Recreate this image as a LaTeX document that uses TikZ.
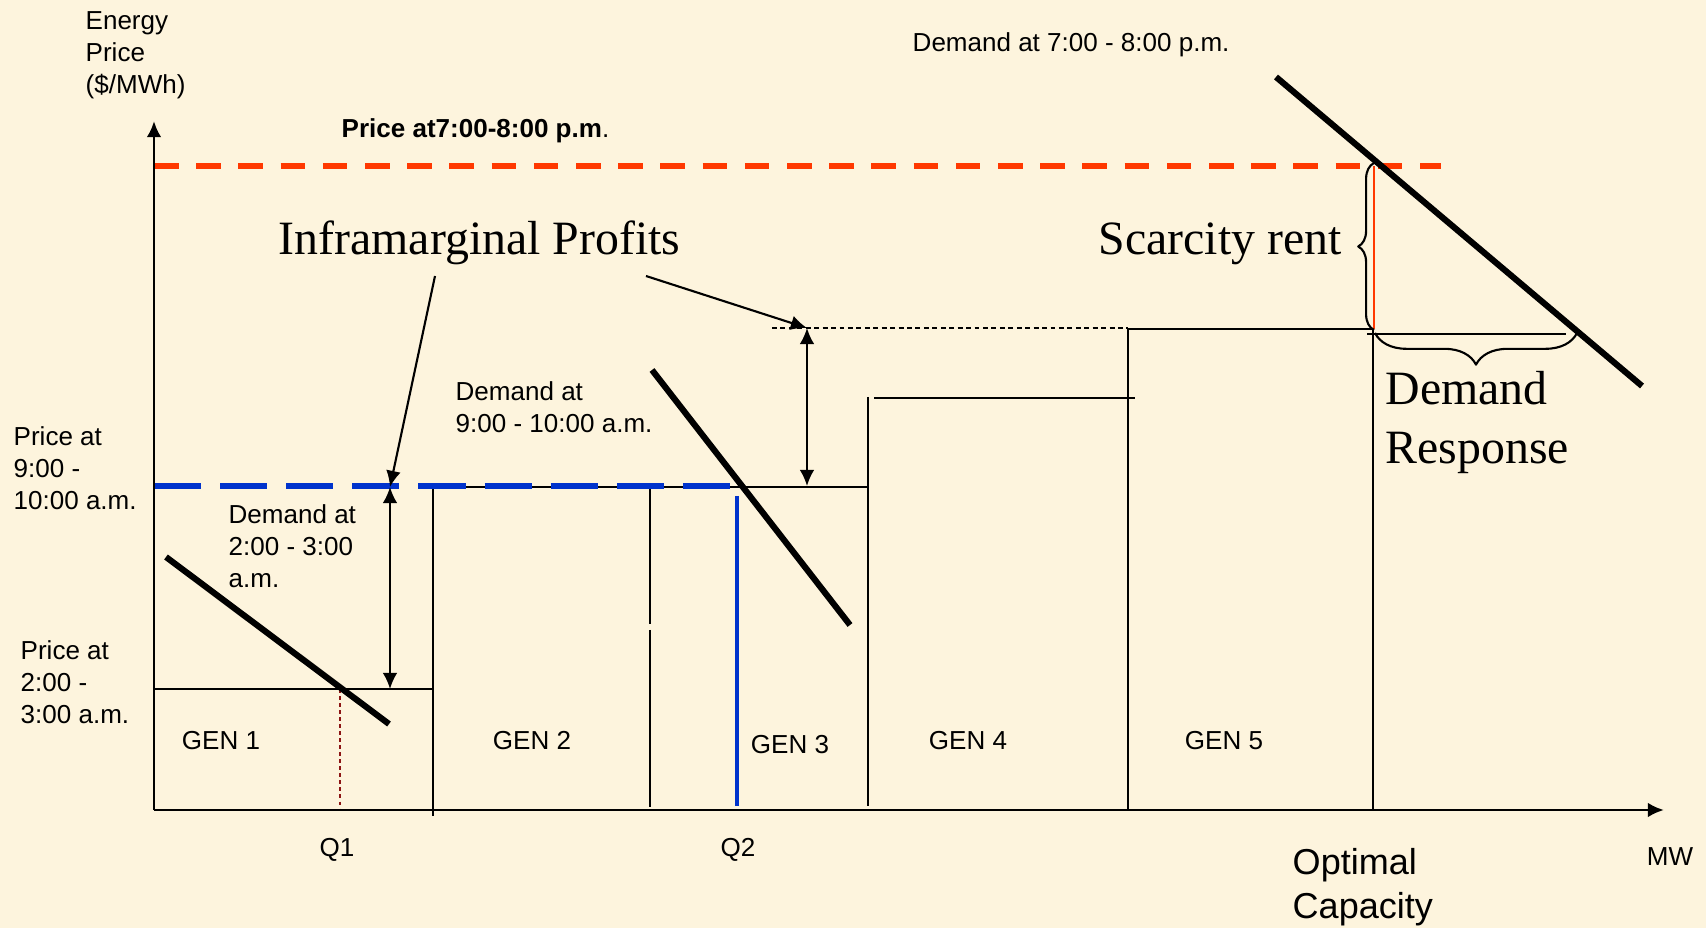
\documentclass[tikz,border=0pt]{standalone}
\usepackage{fontspec}
\setmainfont{Liberation Sans}
\newfontfamily\bigserif{Liberation Serif}
\usepackage{xcolor}
\usetikzlibrary{arrows.meta,decorations.pathreplacing}
\definecolor{paper}{RGB}{253,244,221}
\definecolor{pricered}{RGB}{255,56,0}
\definecolor{priceblue}{RGB}{0,51,204}
\definecolor{dotred}{RGB}{140,20,20}

\begin{document}
\begin{tikzpicture}[x=0.01cm,y=-0.01cm,>={Latex[length=4.6pt,width=4.2pt]},line join=round,
  blk/.style={line width=0.75pt},
  dmd/.style={line width=1.75pt},
  lbl/.style={inner sep=0pt,font=\fontsize{7.4}{9.1}\selectfont,align=left},
  big/.style={inner sep=0pt,font=\bigserif\fontsize{13.6}{16.8}\selectfont,align=left},
  brc/.style={decorate,decoration={brace,amplitude=#1},line width=0.6pt}]
  \useasboundingbox (0,0) rectangle (1706,928);
  \fill[paper] (0,0) rectangle (1706,928);
  \coordinate (O) at (154,810);
  \coordinate (YT) at (154,121);
  \coordinate (XT) at (1664,810);
  \coordinate (R0) at (154,166);
  \coordinate (R1) at (1441,166);
  \coordinate (B0) at (154,486);
  \coordinate (B1) at (740,486);
  \coordinate (A1T) at (390,487);
  \coordinate (A1B) at (390,689);
  \coordinate (A2T) at (807,328);
  \coordinate (A2B) at (807,486);
  \coordinate (IP1) at (435,276);
  \coordinate (IP2) at (646,276);
  \draw[blk] (154,689) -- (433,689);
  \draw[blk] (433,487) -- (433,816);
  \draw[blk] (433,487) -- (868,487);
  \draw[blk] (650,487) -- (650,624) (650,630) -- (650,807);
  \draw[blk] (868,397) -- (868,806);
  \draw[blk] (874,398) -- (1135,398);
  \draw[blk] (1128,329) -- (1128,810);
  \draw[blk] (1128,329) -- (1373,329);
  \draw[blk] (1373,329) -- (1373,810);
  \draw[blk] (1367,334) -- (1566,334);
  \draw[pricered,line width=0.8pt] (1374,166) -- (1374,329);
  \draw[pricered,line width=1.45pt,dash pattern=on 7pt off 5pt] (R0) -- (R1);
  \draw[priceblue,line width=1.45pt,dash pattern=on 13.4pt off 5.4pt] (B0) -- (B1);
  \draw[priceblue,line width=0.9pt] (737,496) -- (737,806);
  \draw[dotred,line width=0.5pt,dash pattern=on 1pt off 1pt] (340,689) -- (340,810);
  \draw[line width=0.55pt,dash pattern=on 1.4pt off 1pt] (772,328) -- (1128,328);
  \draw[line width=0.85pt,->] (O) -- (YT);
  \draw[line width=0.85pt,->] (O) -- (XT);
  \draw[dmd] (166,557) -- (389,724);
  \draw[dmd] (652,370) -- (850,625);
  \draw[dmd] (1276,77) -- (1642,386);
  \draw[<->,line width=0.6pt] (A1T) -- (A1B);
  \draw[<->,line width=0.6pt] (A2T) -- (A2B);
  \draw[->,line width=0.6pt] (IP1) -- (A1T);
  \draw[->,line width=0.6pt] (IP2) -- (A2T);
  \draw[brc=4.5pt] (1374,330) -- (1374,163);
  \draw[brc=9pt] (1577,333) -- (1375,333);
  \node[lbl,anchor=north west] (axlbl) at (85,11.4) {Energy\\Price\\(\$/MWh)};
  \node[lbl,anchor=base west] (peak) at (341,138) {{\bfseries Price at7:00-8:00 p.m}.};
  \node[lbl,anchor=base west] (dpeak) at (912,52) {Demand at 7:00 - 8:00 p.m.};
  \node[big,anchor=base west] (infra) at (278,255) {Inframarginal Profits};
  \node[big,anchor=base west] (scar) at (1098,255) {Scarcity rent};
  \node[big,anchor=north west] (dresp) at (1385,370.4) {Demand\\Response};
  \node[lbl,anchor=north west] (dmorn) at (455,381.4) {Demand at\\9:00 - 10:00 a.m.};
  \node[lbl,anchor=north west] (pmorn) at (13,426.4) {Price at\\9:00 -\\10:00 a.m.};
  \node[lbl,anchor=north west] (dnight) at (228,504.4) {Demand at\\2:00 - 3:00\\a.m.};
  \node[lbl,anchor=north west] (pnight) at (20,640.4) {Price at\\2:00 -\\3:00 a.m.};
  \node[lbl,anchor=base] (gen1) at (221,750) {GEN 1};
  \node[lbl,anchor=base] (gen2) at (532,750) {GEN 2};
  \node[lbl,anchor=base] (gen3) at (790,753) {GEN 3};
  \node[lbl,anchor=base] (gen4) at (968,750) {GEN 4};
  \node[lbl,anchor=base] (gen5) at (1224,750) {GEN 5};
  \node[lbl,anchor=base] (q1) at (337,856) {Q1};
  \node[lbl,anchor=base] (q2) at (738,856) {Q2};
  \node[lbl,anchor=base] (mw) at (1670,865) {MW};
  \node[lbl,anchor=north west,font=\fontsize{10.25}{12.4}\selectfont] (optcap) at (1292,847.8) {Optimal\\Capacity};
\end{tikzpicture}
\end{document}
